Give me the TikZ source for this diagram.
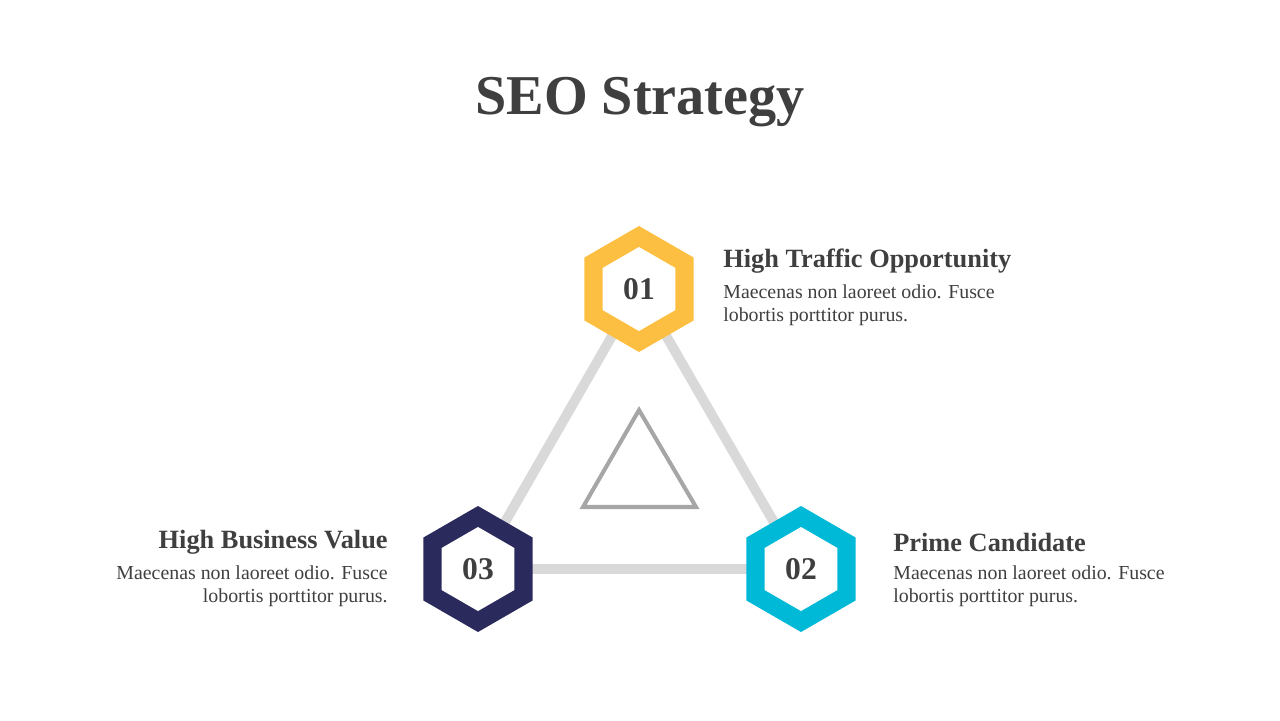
\documentclass[tikz,border=0pt]{standalone}
\usepackage{fontspec}
\setmainfont{Liberation Serif}
\definecolor{txt}{HTML}{3F3F3F}
\definecolor{yel}{HTML}{FDBF41}
\definecolor{cya}{HTML}{00B9D6}
\definecolor{nav}{HTML}{2B2A5C}
\definecolor{lgr}{HTML}{D9D9D9}
\definecolor{mgr}{HTML}{A6A6A6}
\tikzset{
 head/.style={font=\fontsize{15}{18}\selectfont\bfseries, text=txt, inner sep=0},
 body/.style={font=\fontsize{11.3}{13.2}\selectfont, text=txt, inner sep=0, align=left},
 num/.style={font=\fontsize{18}{20}\selectfont\bfseries, text=txt},
 link/.style={draw=lgr, line width=5.6pt}
}
\newcommand{\hexa}[3]{%
 \fill[#3] ($(#1)+(90:63)$) -- ($(#1)+(30:63)$) -- ($(#1)+(-30:63)$) -- ($(#1)+(-90:63)$) -- ($(#1)+(-150:63)$) -- ($(#1)+(150:63)$) -- cycle;
 \fill[white] ($(#1)+(90:42)$) -- ($(#1)+(30:42)$) -- ($(#1)+(-30:42)$) -- ($(#1)+(-90:42)$) -- ($(#1)+(-150:42)$) -- ($(#1)+(150:42)$) -- cycle;
 \node[num] at (#1) {#2};}
\usetikzlibrary{calc}
\begin{document}
\begin{tikzpicture}[x=0.02cm,y=-0.02cm]
\useasboundingbox (0,0) rectangle (1280,720);
\node[font=\fontsize{32}{36}\selectfont\bfseries, text=txt] (title) at (640,102) {SEO Strategy};
\coordinate (h1) at (639,289);
\coordinate (h2) at (801,569);
\coordinate (h3) at (478,569);
\draw[link] (h1) -- (h2) (h2) -- (h3) (h3) -- (h1);
\coordinate (t1) at (639,410);
\coordinate (t2) at (696,507);
\coordinate (t3) at (583,507);
\draw[mgr, line width=2.3pt] (t1) -- (t2) -- (t3) -- cycle;
\hexa{h1}{01}{yel}
\hexa{h2}{02}{cya}
\hexa{h3}{03}{nav}
\node[head, anchor=west] (a1) at (723,261) {High Traffic Opportunity};
\node[body, anchor=north west] (b1) at (723,284) {Maecenas non laoreet odio. Fusce\\lobortis porttitor purus.};
\node[head, anchor=west] (a2) at (893,542) {Prime Candidate};
\node[body, anchor=north west] (b2) at (893,565) {Maecenas non laoreet odio. Fusce\\lobortis porttitor purus.};
\node[head, anchor=east] (a3) at (388,542) {High Business Value};
\node[body, anchor=north east, align=right] (b3) at (388,565) {Maecenas non laoreet odio. Fusce\\lobortis porttitor purus.};
\end{tikzpicture}
\end{document}
